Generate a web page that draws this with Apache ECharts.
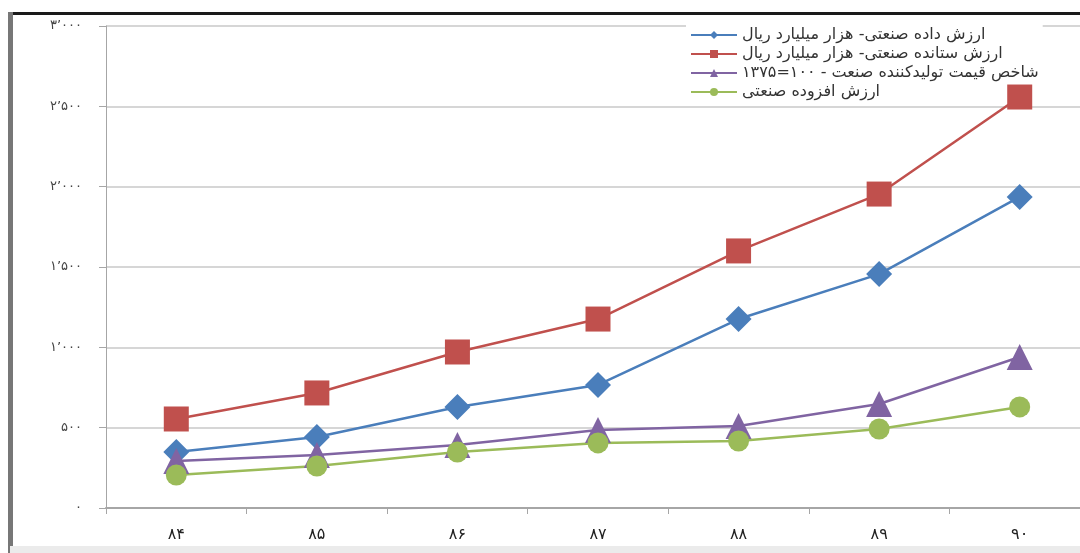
<!DOCTYPE html>
<html>
<head>
<meta charset="utf-8">
<script src="https://cdn.jsdelivr.net/npm/echarts@6/dist/echarts.min.js"></script>
<style>
  html, body { margin: 0; padding: 0; background: #fff; }
  #chart { width: 1080px; height: 553px; }
</style>
</head>
<body>
<div id="chart"></div>
<script>
// categories (years)
const years = ['۸۴', '۸۵', '۸۶', '۸۷', '۸۸', '۸۹', '۹۰'];

// series names
const nameInput = 'ارزش داده صنعتی- هزار میلیارد ریال';
const nameOutput = 'ارزش ستانده صنعتی- هزار میلیارد ریال';
const namePrice = 'شاخص قیمت تولیدکننده صنعت - ۱۰۰=۱۳۷۵';
const nameAdded = 'ارزش افزوده صنعتی';

// values
const inputValues = [348, 442, 629, 766, 1176, 1456, 1936];
const outputValues = [554, 716, 971, 1176, 1600, 1954, 2558];
const priceValues = [293, 330, 392, 485, 510, 647, 940];
const addedValues = [205, 261, 348, 405, 417, 492, 629];

// persian digits for y tick labels
const faDigits = ['۰', '۱', '۲', '۳', '۴', '۵', '۶', '۷', '۸', '۹'];
function toFa(v) {
  let s = String(v);
  if (v >= 1000) s = s.slice(0, s.length - 3) + '٬' + s.slice(s.length - 3);
  return s.replace(/[0-9]/g, d => faDigits[+d]);
}

const chart = echarts.init(document.getElementById('chart'));

function lineSeries(name, data, color, symbol, size) {
  return {
    name: name,
    type: 'line',
    data: data,
    symbol: symbol,
    symbolSize: size,
    lineStyle: { color: color, width: 2.5 },
    itemStyle: { color: color },
    emphasis: { disabled: true }
  };
}

const option = {
  animation: false,
  backgroundColor: '#fff',
  textStyle: { fontFamily: 'DejaVu Sans' },
  grid: { left: 106, top: 26, width: 984, bottom: 45, outerBoundsMode: 'none' },
  legend: {
    orient: 'vertical',
    left: 686,
    top: 25,
    z: 1,
    itemWidth: 46,
    itemHeight: 10,
    itemGap: 3,
    backgroundColor: '#fff',
    padding: [2, 4],
    textStyle: { fontFamily: 'DejaVu Sans', fontSize: 16, color: '#333' },
    data: [nameInput, nameOutput, namePrice, nameAdded]
  },
  xAxis: {
    type: 'category',
    data: years,
    boundaryGap: true,
    axisLine: { lineStyle: { color: '#a6a6a6', width: 2 } },
    axisTick: { show: true, length: 6, lineStyle: { color: '#a6a6a6' } },
    axisLabel: { fontSize: 16, color: '#222', margin: 19, fontFamily: 'DejaVu Sans' }
  },
  yAxis: {
    type: 'value',
    min: 0,
    max: 3000,
    interval: 500,
    axisLine: { show: true, lineStyle: { color: '#a6a6a6', width: 1 } },
    axisTick: { show: true, length: 7, lineStyle: { color: '#a6a6a6' } },
    axisLabel: {
      fontSize: 13, color: '#444', margin: 24,
      formatter: v => toFa(v)
    },
    splitLine: { lineStyle: { color: '#c8c8c8', width: 1.5 } }
  },
  graphic: [
    { type: 'rect', shape: { x: 10, y: 12, width: 1080, height: 3 }, style: { fill: '#1a1a1a' }, z: 100 },
    { type: 'rect', shape: { x: 8, y: 12, width: 5, height: 545 }, style: { fill: '#777' }, z: 100 },
    { type: 'rect', shape: { x: 10, y: 546, width: 1080, height: 7 }, style: { fill: '#ebebeb' }, z: 100 }
  ],
  series: [
    lineSeries(nameInput, inputValues, '#4a7ebb', 'diamond', 26),
    lineSeries(nameOutput, outputValues, '#c0504d', 'rect', 25),
    lineSeries(namePrice, priceValues, '#8064a2', 'triangle', 26),
    lineSeries(nameAdded, addedValues, '#9bbb59', 'circle', 21)
  ]
};

chart.setOption(option);
</script>
</body>
</html>
